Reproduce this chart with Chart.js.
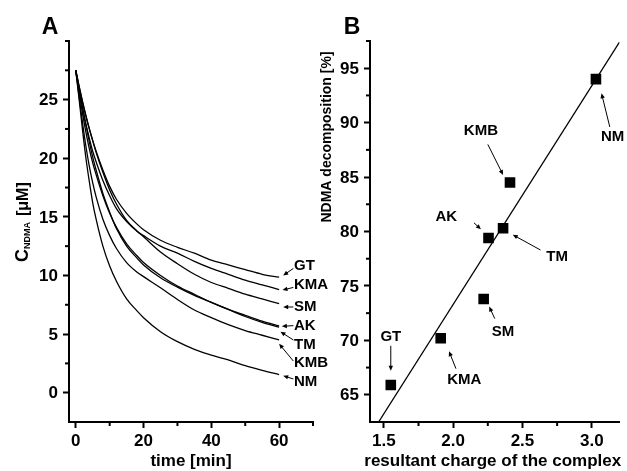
<!DOCTYPE html>
<html>
<head>
<meta charset="utf-8">
<script src="https://cdn.jsdelivr.net/npm/chart.js@4.4.0/dist/chart.umd.min.js"></script>
<style>
    html, body { margin: 0; padding: 0; background: #fff; }
    #wrap { position: relative; width: 627px; height: 471px; }
    canvas { position: absolute; left: 0; top: 0; }
</style>
</head>
<body>
<div id="wrap">
    <canvas id="chartA" width="627" height="471"></canvas>
    <canvas id="chartB" width="627" height="471"></canvas>
</div>
<script>
// Panel A: NDMA concentration vs time
const timeMin = [0, 1, 2, 3, 4, 5, 6, 8, 10, 12, 15, 18, 20, 25, 30, 35, 40, 45, 50, 55, 60];
const gtCurve  = [27.5, 26.1, 24.8, 23.6, 22.5, 21.5, 20.6, 19.0, 17.6, 16.5, 15.3, 14.4, 13.9, 13.0, 12.4, 11.9, 11.3, 10.9, 10.5, 10.1, 9.85];
const kmaCurve = [27.5, 25.8, 24.3, 22.9, 21.7, 20.6, 19.7, 18.1, 16.8, 15.7, 14.6, 13.8, 13.4, 12.5, 11.9, 11.2, 10.6, 10.1, 9.6, 9.2, 8.8];
const smCurve  = [27.5, 26.1, 24.8, 23.6, 22.5, 21.5, 20.5, 18.8, 17.3, 16.1, 14.7, 13.8, 13.3, 12.0, 11.0, 10.1, 9.4, 8.9, 8.4, 8.0, 7.6];
const akCurve  = [27.5, 25.6, 23.8, 22.2, 20.8, 19.6, 18.6, 16.8, 15.3, 14.1, 12.7, 11.7, 11.1, 10.0, 9.1, 8.4, 7.7, 7.1, 6.6, 6.1, 5.7];
const tmCurve  = [27.5, 25.9, 24.3, 22.8, 21.4, 20.1, 19.0, 17.0, 15.4, 14.0, 12.5, 11.5, 10.9, 9.8, 9.0, 8.3, 7.7, 7.1, 6.5, 6.0, 5.6];
const kmbCurve = [27.5, 25.2, 23.0, 21.0, 19.3, 17.9, 16.7, 14.8, 13.4, 12.3, 11.1, 10.3, 9.9, 8.95, 7.95, 7.05, 6.4, 5.8, 5.3, 4.9, 4.5];
const nmCurve  = [27.5, 25.0, 22.4, 20.0, 18.0, 16.2, 14.8, 12.5, 10.8, 9.5, 8.0, 7.0, 6.4, 5.2, 4.35, 3.7, 3.2, 2.8, 2.3, 1.9, 1.55];
const curveNames = ['GT', 'KMA', 'SM', 'AK', 'TM', 'KMB', 'NM'];

const xTicksA = [0, 20, 40, 60];
const xMinorA = [10, 30, 50, 70];
const yTicksA = [0, 5, 10, 15, 20, 25];
const yMinorA = [2.5, 7.5, 12.5, 17.5, 22.5, 27.5, 30];

// Panel B: decomposition vs resultant charge
const complexes = ['GT', 'KMA', 'SM', 'AK', 'TM', 'KMB', 'NM'];
const charge = [1.55, 1.91, 2.22, 2.255, 2.36, 2.41, 3.03];
const decomposition = [65.9, 70.2, 73.8, 79.4, 80.3, 84.5, 94.0];
const fitX = [1.462, 3.2];
const fitY = [62.5, 97.4];

const xTicksB = [1.5, 2.0, 2.5, 3.0];
const xMinorB = [1.75, 2.25, 2.75];
const yTicksB = [65, 70, 75, 80, 85, 90, 95];
const yMinorB = [67.5, 72.5, 77.5, 82.5, 87.5, 92.5, 97.5];

const FONT = "'Liberation Sans', Arial, sans-serif";

// label positions (data units) and arrows: [text, textX, textY, x0, y0, x1, y1]
const labelsA = [
    ['GT', 64.4, 10.84, 64.2, 10.6, 61.2, 10.0],
    ['KMA', 64.4, 9.2, 64.2, 8.98, 61.0, 8.75],
    ['SM', 64.4, 7.34, 64.2, 7.31, 61.2, 7.31],
    ['AK', 64.4, 5.72, 64.2, 5.72, 60.8, 5.66],
    ['TM', 64.4, 4.1, 64.2, 4.5, 60.4, 5.2],
    ['KMB', 64.4, 2.56, 64.2, 2.7, 60.0, 4.17],
    ['NM', 64.4, 0.94, 64.2, 1.17, 61.2, 1.45]
];
const labelsB = [
    ['KMB', 2.2, 89.2, 2.25, 88.0, 2.36, 85.2],
    ['NM', 3.15, 88.7, 3.13, 89.6, 3.07, 92.7],
    ['AK', 1.95, 81.35, 2.15, 80.8, 2.2, 80.2],
    ['TM', 2.75, 77.7, 2.63, 78.3, 2.43, 79.7],
    ['SM', 2.36, 70.8, 2.3, 72.0, 2.26, 73.1],
    ['GT', 1.55, 70.3, 1.55, 69.5, 1.55, 67.2],
    ['KMA', 2.08, 66.4, 2.02, 67.4, 1.97, 69.0]
];

function toPoints(xs, ys) {
    return xs.map((x, i) => ({ x: x, y: ys[i] }));
}

function drawArrow(ctx, x0, y0, x1, y1) {
    const ang = Math.atan2(y1 - y0, x1 - x0);
    const head = 5;
    ctx.beginPath();
    ctx.moveTo(x0, y0);
    ctx.lineTo(x1 - Math.cos(ang) * head * 0.8, y1 - Math.sin(ang) * head * 0.8);
    ctx.stroke();
    ctx.beginPath();
    ctx.moveTo(x1, y1);
    ctx.lineTo(x1 - head * Math.cos(ang) + 2.2 * Math.sin(ang), y1 - head * Math.sin(ang) - 2.2 * Math.cos(ang));
    ctx.lineTo(x1 - head * Math.cos(ang) - 2.2 * Math.sin(ang), y1 - head * Math.sin(ang) + 2.2 * Math.cos(ang));
    ctx.closePath();
    ctx.fill();
}

// draws tick labels, minor ticks, labels with arrows, panel letter and axis titles
const decorPlugin = {
    id: 'decor',
    afterDraw(chart, args, opts) {
        const ctx = chart.ctx;
        const area = chart.chartArea;
        const xs = chart.scales.x, ys = chart.scales.y;
        ctx.save();
        ctx.strokeStyle = '#000';
        ctx.fillStyle = '#000';

        // minor ticks
        ctx.lineWidth = 2;
        opts.xMinor.forEach(v => {
            const p = xs.getPixelForValue(v);
            ctx.beginPath();
            ctx.moveTo(p, area.bottom);
            ctx.lineTo(p, area.bottom + 4);
            ctx.stroke();
        });
        opts.yMinor.forEach(v => {
            const p = ys.getPixelForValue(v);
            ctx.beginPath();
            ctx.moveTo(area.left, p);
            ctx.lineTo(area.left - 4, p);
            ctx.stroke();
        });

        // tick labels
        ctx.font = 'bold 17px ' + FONT;
        ctx.textBaseline = 'middle';
        ctx.textAlign = 'center';
        opts.xTicks.forEach(v => {
            ctx.fillText(v.toFixed(opts.xDecimals), xs.getPixelForValue(v), area.bottom + 19);
        });
        ctx.textAlign = 'right';
        opts.yTicks.forEach(v => {
            ctx.fillText(v.toFixed(0), area.left - 11, ys.getPixelForValue(v) + 1);
        });

        // labels and arrows
        ctx.lineWidth = 1;
        ctx.font = 'bold 15px ' + FONT;
        ctx.textAlign = opts.labelAlign;
        opts.labels.forEach(l => {
            ctx.fillText(l[0], xs.getPixelForValue(l[1]), ys.getPixelForValue(l[2]));
            drawArrow(ctx, xs.getPixelForValue(l[3]), ys.getPixelForValue(l[4]),
                xs.getPixelForValue(l[5]), ys.getPixelForValue(l[6]));
        });

        // panel letter
        ctx.font = 'bold 23px ' + FONT;
        ctx.textAlign = 'center';
        ctx.fillText(opts.letter, opts.letterX, 28);

        // x title
        ctx.font = 'bold 17px ' + FONT;
        ctx.fillText(opts.xTitle, (area.left + area.right) / 2 + opts.xTitleShift, 461);

        // y title
        opts.drawYTitle(ctx);
        ctx.restore();
    }
};

function axisOptions(min, max, tickList, afterFitFn) {
    return {
        type: 'linear',
        min: min,
        max: max,
        afterBuildTicks: function(scale) {
            scale.ticks = tickList.map(v => ({ value: v }));
        },
        afterFit: afterFitFn,
        grid: {
            display: true,
            drawOnChartArea: false,
            drawTicks: true,
            tickLength: 6,
            tickWidth: 2,
            tickColor: '#000'
        },
        border: { display: true, width: 2, color: '#000' },
        ticks: { display: false }
    };
}

Chart.defaults.animation = false;
Chart.defaults.font.family = FONT;

function renderPanelA() {
    const ctx = document.getElementById('chartA').getContext('2d');
    const curves = [gtCurve, kmaCurve, smCurve, akCurve, tmCurve, kmbCurve, nmCurve];
    new Chart(ctx, {
        type: 'line',
        data: {
            datasets: curves.map((c, i) => ({
                label: curveNames[i],
                data: toPoints(timeMin, c),
                borderColor: '#000',
                borderWidth: 1.3,
                pointRadius: 0,
                fill: false,
                cubicInterpolationMode: 'monotone'
            }))
        },
        options: {
            responsive: false,
            layout: { padding: { left: 0, right: 627 - 313, top: 41, bottom: 0 } },
            plugins: {
                legend: { display: false },
                tooltip: { enabled: false },
                decor: {
                    xMinor: xMinorA,
                    yMinor: yMinorA,
                    xTicks: xTicksA,
                    yTicks: yTicksA,
                    xDecimals: 0,
                    labels: labelsA,
                    labelAlign: 'left',
                    letter: 'A',
                    letterX: 50,
                    xTitle: 'time [min]',
                    xTitleShift: 0,
                    drawYTitle: function(c) {
                        c.save();
                        c.translate(28, 262);
                        c.rotate(-Math.PI / 2);
                        c.textAlign = 'left';
                        c.textBaseline = 'alphabetic';
                        c.font = 'bold 18px ' + FONT;
                        c.fillText('C', 0, 0);
                        let w = c.measureText('C').width;
                        c.font = 'bold 9px ' + FONT;
                        c.fillText('NDMA', w, 2);
                        w += c.measureText('NDMA').width + 6;
                        c.font = 'bold 16px ' + FONT;
                        c.fillText('[\u03bcM]', w, 0);
                        c.restore();
                    }
                }
            },
            scales: {
                x: axisOptions(-2, 70, xTicksA, s => { s.height = 49; }),
                y: axisOptions(-2.5, 30, yTicksA, s => { s.width = 69; })
            }
        },
        plugins: [decorPlugin]
    });
}

function renderPanelB() {
    const ctx = document.getElementById('chartB').getContext('2d');
    new Chart(ctx, {
        type: 'scatter',
        data: {
            datasets: [{
                label: 'complexes',
                data: toPoints(charge, decomposition),
                pointStyle: 'rect',
                pointRadius: 7.5,
                backgroundColor: '#000',
                borderColor: '#000',
                borderWidth: 0
            }, {
                type: 'line',
                label: 'fit',
                data: toPoints(fitX, fitY),
                borderColor: '#000',
                borderWidth: 1.3,
                pointRadius: 0,
                showLine: true,
                fill: false
            }]
        },
        options: {
            responsive: false,
            layout: { padding: { left: 0, right: 7, top: 41, bottom: 0 } },
            plugins: {
                legend: { display: false },
                tooltip: { enabled: false },
                decor: {
                    xMinor: xMinorB,
                    yMinor: yMinorB,
                    xTicks: xTicksB,
                    yTicks: yTicksB,
                    xDecimals: 1,
                    labels: labelsB,
                    labelAlign: 'center',
                    letter: 'B',
                    letterX: 352,
                    xTitle: 'resultant charge of the complex',
                    xTitleShift: -2,
                    drawYTitle: function(c) {
                        c.save();
                        c.translate(327, 137);
                        c.rotate(-Math.PI / 2);
                        c.textAlign = 'center';
                        c.textBaseline = 'middle';
                        c.font = 'bold 14px ' + FONT;
                        c.fillText('NDMA decomposition [%]', 0, 0);
                        c.restore();
                    }
                }
            },
            scales: {
                x: axisOptions(1.4, 3.2, xTicksB, s => { s.height = 49; }),
                y: axisOptions(62.5, 97.5, yTicksB, s => { s.width = 370; })
            }
        },
        plugins: [decorPlugin]
    });
}

renderPanelA();
renderPanelB();
</script>
</body>
</html>
